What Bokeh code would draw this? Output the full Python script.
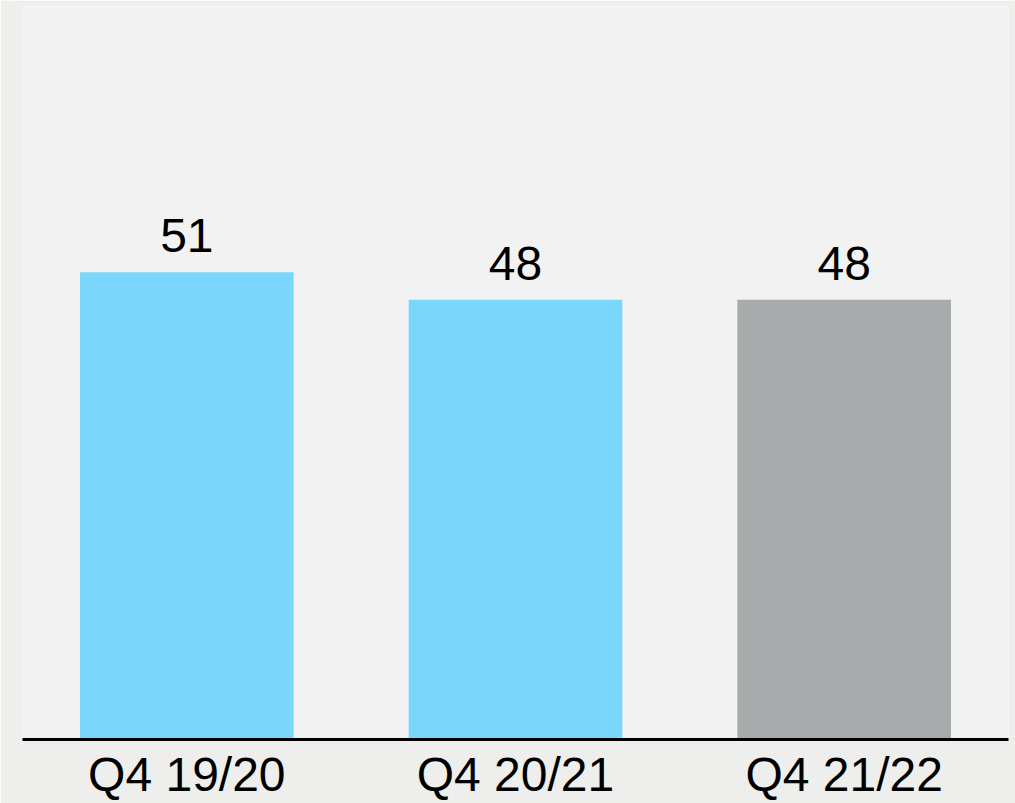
from bokeh.plotting import figure
from bokeh.models import ColumnDataSource, LabelSet, Range1d
from bokeh.core.properties import value
from bokeh.embed import file_html
from bokeh.resources import INLINE

categories = ["Q4 19/20", "Q4 20/21", "Q4 21/22"]
values = [51, 48, 48]
colors = ["#7ad6fa", "#7ad6fa", "#a8abac"]
labels = [str(v) for v in values]

src = ColumnDataSource(dict(cat=categories, val=values, color=colors, lab=labels))

p = figure(x_range=categories, y_range=Range1d(0, 80.0), width=1015, height=803,
           output_backend="svg", toolbar_location=None,
           min_border_left=22, min_border_right=7, min_border_top=6, min_border_bottom=0,
           border_fill_color="#eeeeec", background_fill_color="#f2f2f2",
           outline_line_color=None)
p.x_range.range_padding = 0

p.vbar(x="cat", top="val", width=0.65, color="color", source=src, line_color=None)

labs = LabelSet(x="cat", y="val", text="lab", source=src, text_align="center",
                text_baseline="alphabetic", y_offset=20, text_font=value("Liberation Sans"),
                text_font_size="48px", text_color="black")
p.add_layout(labs)

p.grid.visible = False
p.yaxis.visible = False
ax = p.xaxis[0]
ax.axis_line_color = "black"
ax.axis_line_width = 3
ax.major_tick_line_color = None
ax.minor_tick_line_color = None
ax.major_label_text_font = "Liberation Sans"
ax.major_label_text_font_size = "48px"
ax.major_label_text_color = "black"
ax.major_label_standoff = 2

open("out.html", "w").write(file_html(p, INLINE))
